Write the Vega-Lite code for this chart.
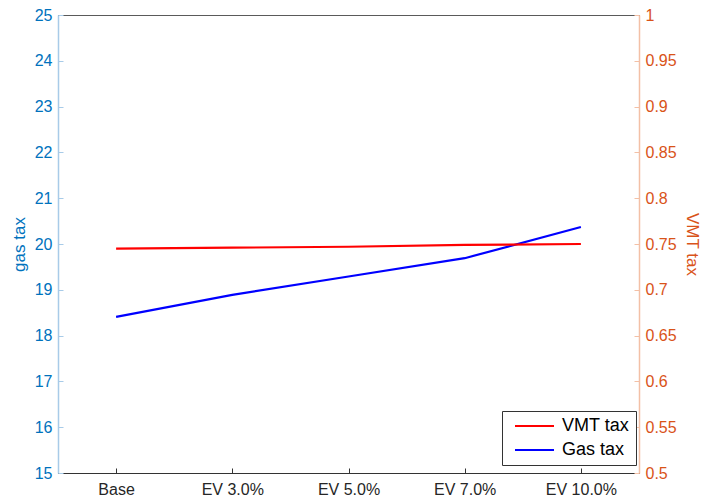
{
  "$schema": "https://vega.github.io/schema/vega-lite/v6.json",
  "width": 581,
  "height": 458,
  "autosize": "none",
  "padding": {"left": 58, "top": 15, "right": 66, "bottom": 29},
  "background": "white",
  "config": {
    "view": {"stroke": "#5a5a5a", "strokeWidth": 1},
    "font": "Liberation Sans",
    "axis": {"labelFont": "Liberation Sans", "titleFont": "Liberation Sans", "labelFontSize": 16, "titleFontSize": 17, "titleFontWeight": "normal", "grid": false},
    "legend": {"labelFont": "Liberation Sans", "labelFontSize": 18}
  },
  "data": {
    "values": [
      {"scenario": "Base", "gas": 18.41, "vmt": 0.745},
      {"scenario": "EV 3.0%", "gas": 18.89, "vmt": 0.746},
      {"scenario": "EV 5.0%", "gas": 19.29, "vmt": 0.747},
      {"scenario": "EV 7.0%", "gas": 19.69, "vmt": 0.749},
      {"scenario": "EV 10.0%", "gas": 20.37, "vmt": 0.750}
    ]
  },
  "encoding": {
    "x": {
      "field": "scenario", "type": "ordinal",
      "sort": ["Base", "EV 3.0%", "EV 5.0%", "EV 7.0%", "EV 10.0%"],
      "scale": {"type": "point", "padding": 0.5},
      "axis": {"title": null, "labelAngle": 0, "labelColor": "#262626", "domainColor": "#333333", "tickColor": "#333333", "tickSize": -5, "labelPadding": 13, "labelFontSize": 16}
    }
  },
  "layer": [
    {
      "mark": {"type": "line", "strokeWidth": 2.2},
      "encoding": {
        "y": {
          "field": "gas", "type": "quantitative",
          "scale": {"domain": [15, 25], "nice": false, "zero": false},
          "axis": {"title": "gas tax", "titleColor": "#0072BD", "labelColor": "#0072BD", "domainColor": "#a8cbe8", "tickColor": "#a8cbe8", "values": [15,16,17,18,19,20,21,22,23,24,25], "tickSize": -5, "labelPadding": 11, "titlePadding": 6, "domainWidth": 1.5}
        },
        "color": {
          "datum": "Gas tax", "type": "nominal",
          "scale": {"domain": ["VMT tax", "Gas tax"], "range": ["#FF0000", "#0000FF"]},
          "legend": {
            "title": null, "orient": "none", "legendX": 444, "legendY": 396,
            "symbolType": "M-0.4,0H7.4", "symbolSize": 100, "symbolStrokeWidth": 2.2, "symbolFillColor": "transparent",
            "strokeColor": "#333333", "fillColor": "white", "padding": 6, "rowPadding": 6, "labelOffset": 36, "labelColor": "#000000"
          }
        }
      }
    },
    {
      "mark": {"type": "line", "strokeWidth": 2.2},
      "encoding": {
        "y": {
          "field": "vmt", "type": "quantitative",
          "scale": {"domain": [0.5, 1], "nice": false, "zero": false},
          "axis": {"title": "VMT tax", "orient": "right", "format": "~g", "titleColor": "#D95319", "labelColor": "#D95319", "domainColor": "#f3c0a6", "tickColor": "#f3c0a6", "values": [0.5,0.55,0.6,0.65,0.7,0.75,0.8,0.85,0.9,0.95,1], "tickSize": -5, "labelPadding": 11, "titlePadding": 6, "domainWidth": 1.5}
        },
        "color": {"datum": "VMT tax", "type": "nominal"}
      }
    }
  ],
  "resolve": {"scale": {"y": "independent"}}
}
